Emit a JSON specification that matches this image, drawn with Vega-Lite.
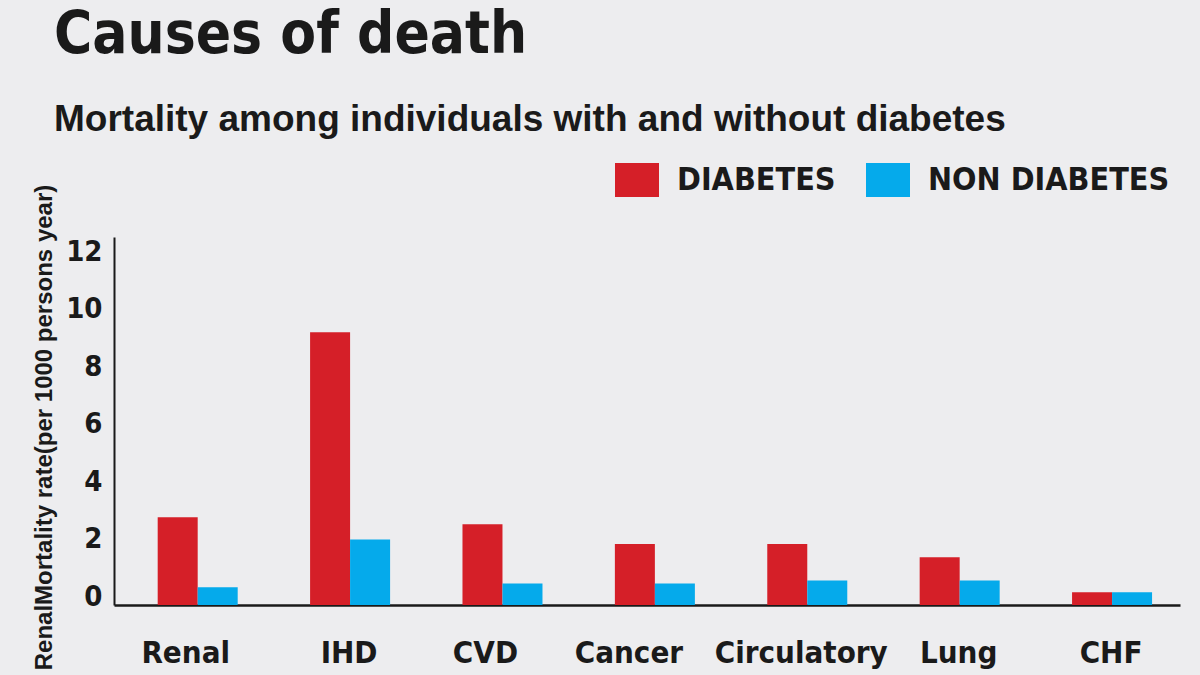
{
  "$schema": "https://vega.github.io/schema/vega-lite/v6.json",
  "width": 1066,
  "height": 368,
  "autosize": "none",
  "padding": {"left": 114, "top": 237, "right": 20, "bottom": 70},
  "background": "#ededef",
  "title": {
    "text": "Causes of death",
    "subtitle": "Mortality among individuals with and without diabetes",
    "anchor": "start",
    "frame": "group",
    "dx": -60,
    "offset": 25,
    "font": "DejaVu Sans Condensed",
    "fontSize": 58,
    "fontWeight": "bold",
    "color": "#1a1a1a",
    "subtitleFont": "Liberation Sans",
    "subtitleFontSize": 37,
    "subtitleFontWeight": "bold",
    "subtitleColor": "#1a1a1a",
    "subtitlePadding": 37
  },
  "data": {
    "values": [
      {"cause": "Renal", "group": "DIABETES", "rate": 3.05},
      {"cause": "Renal", "group": "NON DIABETES", "rate": 0.62},
      {"cause": "IHD", "group": "DIABETES", "rate": 9.49},
      {"cause": "IHD", "group": "NON DIABETES", "rate": 2.28},
      {"cause": "CVD", "group": "DIABETES", "rate": 2.81},
      {"cause": "CVD", "group": "NON DIABETES", "rate": 0.75},
      {"cause": "Cancer", "group": "DIABETES", "rate": 2.12},
      {"cause": "Cancer", "group": "NON DIABETES", "rate": 0.75},
      {"cause": "Circulatory", "group": "DIABETES", "rate": 2.12},
      {"cause": "Circulatory", "group": "NON DIABETES", "rate": 0.85},
      {"cause": "Lung", "group": "DIABETES", "rate": 1.66},
      {"cause": "Lung", "group": "NON DIABETES", "rate": 0.85},
      {"cause": "CHF", "group": "DIABETES", "rate": 0.44},
      {"cause": "CHF", "group": "NON DIABETES", "rate": 0.44}
    ]
  },
  "mark": {"type": "bar"},
  "encoding": {
    "x": {
      "field": "cause",
      "type": "nominal",
      "sort": ["Renal", "IHD", "CVD", "Cancer", "Circulatory", "Lung", "CHF"],
      "scale": {"paddingInner": 0.475, "paddingOuter": 0.235, "align": 0.61},
      "axis": {
        "title": null,
        "labelAngle": 0,
        "ticks": false,
        "tickSize": 0,
        "labelPadding": 57,
        "labelBaseline": "alphabetic",
        "labelLimit": 400,
        "labelOffset": {
          "condition": [
            {"test": "datum.value === 'Renal'", "value": -12},
            {"test": "datum.value === 'CVD'", "value": -17},
            {"test": "datum.value === 'Cancer'", "value": -26},
            {"test": "datum.value === 'Circulatory'", "value": -6}
          ],
          "value": -1
        },
        "labelFont": "DejaVu Sans Condensed",
        "labelFontSize": 31,
        "labelFontWeight": "bold",
        "labelColor": "#1a1a1a",
        "domainColor": "#1a1a1a",
        "domainWidth": 2.5,
        "grid": false
      }
    },
    "xOffset": {
      "field": "group",
      "type": "nominal",
      "sort": ["DIABETES", "NON DIABETES"],
      "scale": {"paddingInner": 0, "paddingOuter": 0}
    },
    "y": {
      "field": "rate",
      "type": "quantitative",
      "scale": {"domain": [0, 12.8], "nice": false},
      "axis": {
        "title": "RenalMortality rate(per 1000 persons year)",
        "titleFont": "Liberation Sans",
        "titleFontSize": 24,
        "titleFontWeight": "bold",
        "titleColor": "#1a1a1a",
        "titleAngle": -90,
        "titleX": -70,
        "titleY": 190,
        "titleAlign": "center",
        "titleBaseline": "middle",
        "values": [0, 2, 4, 6, 8, 10, 12],
        "ticks": false,
        "tickSize": 0,
        "grid": false,
        "labelPadding": 12,
        "labelOffset": -9,
        "labelFont": "DejaVu Sans Condensed",
        "labelFontSize": 29,
        "labelFontWeight": "bold",
        "labelColor": "#1a1a1a",
        "domainColor": "#1a1a1a",
        "domainWidth": 2
      }
    },
    "color": {
      "field": "group",
      "type": "nominal",
      "sort": ["DIABETES", "NON DIABETES"],
      "scale": {"domain": ["DIABETES", "NON DIABETES"], "range": ["#d51f28", "#05aaeb"]},
      "legend": {
        "title": null,
        "orient": "none",
        "direction": "horizontal",
        "legendX": 506,
        "legendY": -74,
        "padding": 0,
        "symbolType": "M-1.294,-1L1.294,-1L1.294,1L-1.294,1Z",
        "symbolSize": 1156,
        "symbolStrokeWidth": 0,
        "symbolOpacity": 1,
        "labelOffset": 23,
        "columnPadding": 30,
        "labelFont": "DejaVu Sans Condensed",
        "labelFontSize": 32,
        "labelFontWeight": "bold",
        "labelColor": "#1a1a1a",
        "labelLimit": 400
      }
    }
  },
  "config": {
    "view": {"stroke": null},
    "axis": {"labelFlush": false}
  }
}
